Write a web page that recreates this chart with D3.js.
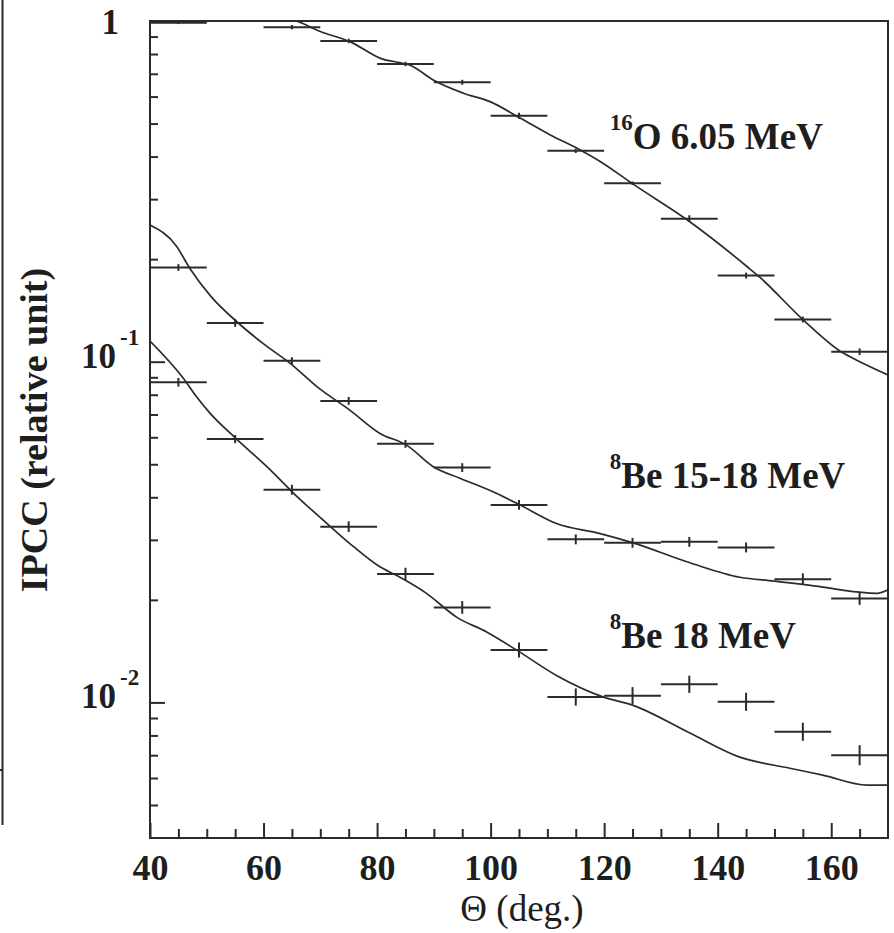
<!DOCTYPE html>
<html>
<head>
<meta charset="utf-8">
<script src="https://cdn.jsdelivr.net/npm/d3@7"></script>
<style>
  body { margin: 0; background: #fff; }
  svg text { font-family: "Liberation Serif", "Times New Roman", serif; }
</style>
</head>
<body>
<div id="chart"></div>
<script>
// Bin centres (deg), each bin is 10 deg wide
const theta = [45, 55, 65, 75, 85, 95, 105, 115, 125, 135, 145, 155, 165];

// Measured IPCC values (null = not shown)
const o16Data = [0.989, null, 0.959, 0.874, 0.748, 0.661, 0.527, 0.416, 0.334, 0.263, 0.179, 0.133, 0.107];
const be1518Data = [0.189, 0.130, 0.1007, 0.0767, 0.0574, 0.0489, 0.0380, 0.0301, 0.0294, 0.0296, 0.0285, 0.0230, 0.0202];
const be18Data = [0.087, 0.0593, 0.0421, 0.0328, 0.0238, 0.0190, 0.01425, 0.01037, 0.01046, 0.0113, 0.01004, 0.0082, 0.0070];

// Relative errors (%)
const o16Err = [1, 0, 1.5, 1.5, 1.5, 1.7, 2, 1.5, 1.2, 2.3, 2, 2, 2.3];
const be1518Err = [2.3, 2.7, 2.3, 2.7, 2.7, 3, 3.4, 3.4, 3.4, 3.4, 3.4, 4, 4.5];
const be18Err = [3, 2.8, 3.4, 3.7, 4.4, 4.4, 5.2, 6, 6, 6, 6.3, 6.3, 7];

// Calculated curves [theta, value]
const o16Curve = [[62, 1.03], [65.8, 1.0], [70, 0.931], [75.2, 0.870], [80.5, 0.778], [86.3, 0.735], [89.9, 0.671],
  [95.2, 0.614], [99.9, 0.580], [105.2, 0.519], [110.5, 0.463], [115.7, 0.419], [119.3, 0.387], [125.1, 0.332],
  [134.6, 0.261], [145.2, 0.190], [147.4, 0.177], [155.0, 0.133], [162.1, 0.106], [164.5, 0.101], [170, 0.0914]];
const be1518Curve = [[40, 0.252], [44.7, 0.218], [47.0, 0.188], [50.8, 0.155], [55.3, 0.131], [59.95, 0.113],
  [64.7, 0.0989], [69.4, 0.0845], [75.2, 0.0721], [80.5, 0.0616], [85.2, 0.0569], [89.9, 0.0492], [94.6, 0.0455],
  [101.0, 0.0411], [105.8, 0.0375], [111.6, 0.0335], [119.3, 0.0313], [125.1, 0.0294], [135.1, 0.0257],
  [143.9, 0.0233], [149.9, 0.0227], [158.5, 0.0218], [164.5, 0.0211], [168.1, 0.0209], [170, 0.0214]];
const be18Curve = [[40, 0.115], [45.9, 0.0893], [48.2, 0.0789], [50.6, 0.0705], [55.3, 0.0592], [60.6, 0.0492],
  [65.3, 0.0411], [71.1, 0.0336], [75.8, 0.0287], [80.5, 0.0250], [83.4, 0.0236], [88.7, 0.0209], [94.0, 0.0178],
  [99.3, 0.0161], [104.6, 0.01424], [111.6, 0.0120], [119.8, 0.01038], [125.1, 0.0098], [135.1, 0.00813],
  [143.9, 0.00691], [152.7, 0.00641], [158.5, 0.00612], [166.3, 0.00572], [170, 0.00572]];

// Axis ticks
const xMajor = [40, 60, 80, 100, 120, 140, 160];
const xMinor = [45, 50, 55, 65, 70, 75, 85, 90, 95, 105, 110, 115, 125, 130, 135, 145, 150, 155, 165];
const yMajor = [0.01, 0.1, 1];
const yMinor = [0.005, 0.006, 0.007, 0.008, 0.009, 0.02, 0.03, 0.04, 0.05, 0.06, 0.07, 0.08, 0.09,
  0.2, 0.3, 0.4, 0.5, 0.6, 0.7, 0.8, 0.9];

const labels = [
  { sup: "16", text: "O 6.05 MeV", x: 121, y: 0.42 },
  { sup: "8", text: "Be 15-18 MeV", x: 121, y: 0.0425 },
  { sup: "8", text: "Be 18 MeV", x: 121, y: 0.0144 }
];

const W = 894, H = 933;
const margin = { top: 21, right: 6, bottom: 95, left: 150 };
const width = W - margin.left - margin.right;
const height = H - margin.top - margin.bottom;
const ink = "#2b2b2b";
const serif = '"Liberation Serif", "Times New Roman", serif';

const svg = d3.select("#chart").append("svg")
  .attr("width", W).attr("height", H);

// stray frame edge of a neighbouring panel
svg.append("path")
  .attr("d", "M2.5,0V825M0,770H3")
  .attr("stroke", ink).attr("stroke-width", 2).attr("fill", "none");

const g = svg.append("g").attr("transform", `translate(${margin.left},${margin.top})`);

const x = d3.scaleLinear().domain([40, 170]).range([0, width]);
const y = d3.scaleLog().domain([0.004, 1]).range([height, 0]);

g.append("clipPath").attr("id", "clip")
  .append("rect").attr("width", width).attr("height", height);

// x axis
const xMaj = g.append("g").attr("transform", `translate(0,${height})`)
  .call(d3.axisBottom(x).tickValues(xMajor).tickSizeInner(-15).tickSizeOuter(0).tickPadding(16));
xMaj.attr("font-family", serif);
xMaj.selectAll("text").style("font-family", serif).style("font-size", "36px").style("font-weight", "bold").attr("fill", "#1e1e1e");
g.append("g").attr("transform", `translate(0,${height})`)
  .call(d3.axisBottom(x).tickValues(xMinor).tickSizeInner(-9).tickSizeOuter(0).tickFormat(""));

// y axis
g.append("g").call(d3.axisLeft(y).tickValues(yMajor).tickSizeInner(-15).tickSizeOuter(0).tickFormat(""));
g.append("g").call(d3.axisLeft(y).tickValues(yMinor).tickSizeInner(-8).tickSizeOuter(0).tickFormat(""));

g.selectAll(".domain").remove();
g.selectAll(".tick line").attr("stroke", ink).attr("stroke-width", 2);

// y tick labels
yMajor.forEach(v => {
  if (v === 1) {
    g.append("text").attr("x", -31).attr("y", y(v) + 13)
      .attr("text-anchor", "end").style("font-size", "35px").style("font-weight", "bold")
      .attr("fill", "#1e1e1e").text("1");
  } else {
    g.append("text").attr("x", -34).attr("y", y(v) + 6)
      .attr("text-anchor", "end").style("font-size", "35px").style("font-weight", "bold")
      .attr("fill", "#1e1e1e").text("10");
    g.append("text").attr("x", -30).attr("y", y(v) - 17)
      .style("font-size", "23px").style("font-weight", "bold")
      .attr("fill", "#1e1e1e").text("-" + Math.round(-Math.log10(v)));
  }
});

// frame
g.append("rect").attr("width", width).attr("height", height)
  .attr("fill", "none").attr("stroke", ink).attr("stroke-width", 2);

// axis titles
g.append("text").attr("x", width / 2 + 3).attr("y", height + 83)
  .attr("text-anchor", "middle").style("font-size", "37px").attr("fill", "#1e1e1e")
  .text("\u0398 (deg.)");
svg.append("text")
  .attr("transform", `translate(47,430) rotate(-90)`)
  .attr("text-anchor", "middle").style("font-size", "38px").style("font-weight", "bold")
  .attr("fill", "#1e1e1e").text("IPCC (relative unit)");

// curves
const line = d3.line().x(d => x(d[0])).y(d => y(d[1])).curve(d3.curveMonotoneX);
const plot = g.append("g").attr("clip-path", "url(#clip)");
[o16Curve, be1518Curve, be18Curve].forEach(c => {
  plot.append("path").datum(c).attr("d", line)
    .attr("fill", "none").attr("stroke", ink).attr("stroke-width", 1.7);
});

// data points with error bars
[[o16Data, o16Err], [be1518Data, be1518Err], [be18Data, be18Err]].forEach(([vals, errs]) => {
  const pts = theta.map((t, i) => ({ t, v: vals[i], e: errs[i] / 100 })).filter(d => d.v != null);
  const pg = plot.append("g").attr("stroke", ink).attr("stroke-width", 2);
  pg.selectAll(".h").data(pts).enter().append("line")
    .attr("x1", d => x(d.t - 5)).attr("x2", d => x(d.t + 5))
    .attr("y1", d => y(d.v)).attr("y2", d => y(d.v));
  pg.selectAll(".v").data(pts).enter().append("line")
    .attr("x1", d => x(d.t)).attr("x2", d => x(d.t))
    .attr("y1", d => y(d.v * (1 + d.e))).attr("y2", d => y(d.v / (1 + d.e)));
});

// series labels
labels.forEach(l => {
  const t = g.append("text").attr("x", x(l.x)).attr("y", y(l.y))
    .style("font-weight", "bold").attr("fill", "#1e1e1e");
  t.append("tspan").attr("dy", -19).style("font-size", "23px").text(l.sup);
  t.append("tspan").attr("dy", 19).style("font-size", "37px").text(l.text);
});
</script>
</body>
</html>
